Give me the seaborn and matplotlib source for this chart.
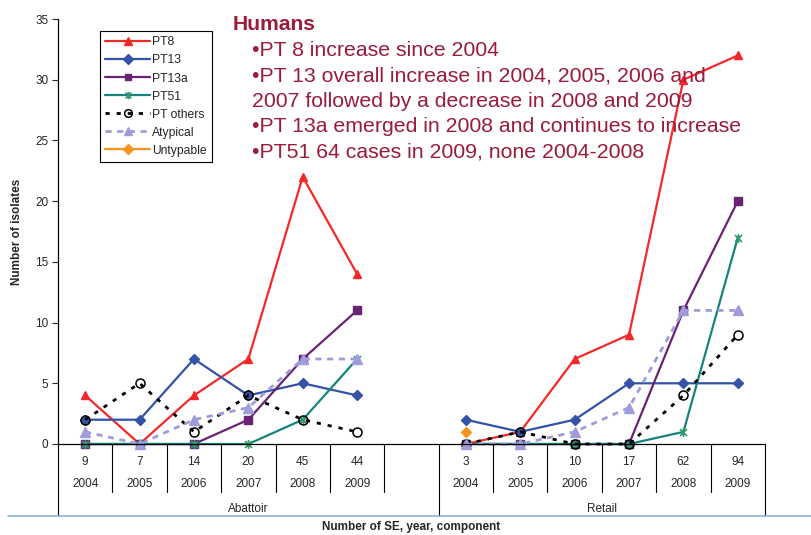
import numpy as np
import pandas as pd
import matplotlib
matplotlib.use("Agg")
import matplotlib.pyplot as plt
import matplotlib.transforms as mtransforms
from matplotlib.path import Path
from matplotlib.lines import Line2D
import seaborn as sns

# ---- data -------------------------------------------------------------
components = ["Abattoir", "Retail"]
years = ["2004", "2005", "2006", "2007", "2008", "2009"]
se_abattoir = [9, 7, 14, 20, 45, 44]
se_retail = [3, 3, 10, 17, 62, 94]

series_names = ["PT8", "PT13", "PT13a", "PT51", "PT others", "Atypical", "Untypable"]

pt8_abattoir = [4, 0, 4, 7, 22, 14]
pt8_retail = [0, 1, 7, 9, 30, 32]
pt13_abattoir = [2, 2, 7, 4, 5, 4]
pt13_retail = [2, 1, 2, 5, 5, 5]
pt13a_abattoir = [0, 0, 0, 2, 7, 11]
pt13a_retail = [0, 0, 0, 0, 11, 20]
pt51_abattoir = [0, 0, 0, 0, 2, 7]
pt51_retail = [0, 0, 0, 0, 1, 17]
others_abattoir = [2, 5, 1, 4, 2, 1]
others_retail = [0, 1, 0, 0, 4, 9]
atypical_abattoir = [1, 0, 2, 3, 7, 7]
atypical_retail = [0, 0, 1, 3, 11, 11]
untypable_abattoir = [np.nan] * 6
untypable_retail = [1, np.nan, np.nan, np.nan, np.nan, np.nan]

humans_title = "Humans"
humans_notes = [
    "\u2022PT 8 increase since 2004",
    "\u2022PT 13 overall increase in 2004, 2005, 2006 and",
    "2007 followed by a decrease in 2008 and 2009",
    "\u2022PT 13a emerged in 2008 and continues to increase",
    "\u2022PT51 64 cases in 2009, none 2004-2008",
]

values = {
    "PT8": (pt8_abattoir, pt8_retail),
    "PT13": (pt13_abattoir, pt13_retail),
    "PT13a": (pt13a_abattoir, pt13a_retail),
    "PT51": (pt51_abattoir, pt51_retail),
    "PT others": (others_abattoir, others_retail),
    "Atypical": (atypical_abattoir, atypical_retail),
    "Untypable": (untypable_abattoir, untypable_retail),
}

# category slots: 6 abattoir years, one empty slot, 6 retail years
slot_offset = {"Abattoir": 0, "Retail": 7}
rows = []
for name in series_names:
    for comp, vals in zip(components, values[name]):
        for i, v in enumerate(vals):
            rows.append({"series": name, "component": comp, "year": years[i],
                         "slot": i + slot_offset[comp], "value": v})
df = pd.DataFrame(rows).dropna(subset=["value"])

# ---- styles -----------------------------------------------------------
star = Path([(-1, -1), (1, 1), (-1, 1), (1, -1), (0, -1.3), (0, 1.3)],
            [Path.MOVETO, Path.LINETO, Path.MOVETO, Path.LINETO, Path.MOVETO, Path.LINETO])

styles = {
    "PT8": dict(color="#F42828", marker="^", ms=6, mfc="#F42828", mec="#F42828", ls="-", lw=1.6),
    "PT13": dict(color="#3452A6", marker="D", ms=5.5, mfc="#3452A6", mec="#3452A6", ls="-", lw=1.6),
    "PT13a": dict(color="#6A2274", marker="s", ms=5.5, mfc="#6A2274", mec="#6A2274", ls="-", lw=1.6),
    "PT51": dict(color="#16847A", marker=star, ms=6.5, mfc="none", mec="#2E9A6E", mew=1.2, ls="-", lw=1.6),
    "PT others": dict(color="black", marker="o", ms=6.5, mfc="none", mec="black", mew=1.1,
                      ls=(0, (1.5, 2.5)), lw=2.0),
    "Atypical": dict(color="#9E9CD9", marker="^", ms=7.5, mfc="#9E9CD9", mec="#9E9CD9",
                     ls=(0, (2.2, 2.0)), lw=2.0),
    "Untypable": dict(color="#F7931E", marker="D", ms=5.5, mfc="#F7931E", mec="#F7931E", ls="-", lw=1.6),
}

sns.set_style("white")
plt.rcParams["font.family"] = ["Liberation Sans", "DejaVu Sans"]

W, H = 811, 535
fig = plt.figure(figsize=(W / 100, H / 100), dpi=100)
ax = fig.add_axes([58 / W, (H - 444) / H, (765 - 58) / W, (444 - 19) / H])

for name in series_names:
    st = styles[name]
    sub = df[df["series"] == name]
    sns.lineplot(data=sub, x="slot", y="value", units="component", estimator=None,
                 color=st["color"], linestyle=st["ls"], linewidth=st["lw"],
                 marker=st["marker"], markersize=st["ms"], markerfacecolor=st["mfc"],
                 markeredgecolor=st["mec"], markeredgewidth=st.get("mew", 1.0),
                 legend=False, ax=ax, clip_on=False)

ax.set_xlim(-0.5, 12.5)
ax.set_ylim(0, 35)
ax.set_yticks(range(0, 36, 5))
ax.tick_params(axis="y", direction="out", length=4, width=0.8, labelsize=8.5, pad=3, left=True)
ax.set_xticks([])
ax.set_xlabel("")
ax.set_ylabel("Number of isolates", fontsize=8.5, fontweight="bold", labelpad=2)
ax.yaxis.set_label_coords(-35 / (765 - 58), 0.5)
for side in ["top", "right"]:
    ax.spines[side].set_visible(False)
for side in ["left", "bottom"]:
    ax.spines[side].set_color("black")
    ax.spines[side].set_linewidth(0.9)

# ---- category table under the axis ------------------------------------
tr = mtransforms.blended_transform_factory(ax.transData, fig.transFigure)
fy = lambda py: (H - py) / H
for k in range(14):
    xb = k - 0.5
    y_end = 516 if k in (0, 7, 13) else 492
    ax.add_line(Line2D([xb, xb], [fy(444), fy(y_end)], transform=tr, color="black",
                       lw=0.8, clip_on=False))

for comp, counts in zip(components, [se_abattoir, se_retail]):
    for i, (n, yr) in enumerate(zip(counts, years)):
        xs = i + slot_offset[comp]
        ax.text(xs, fy(462), str(n), transform=tr, ha="center", va="center", fontsize=8.5)
        ax.text(xs, fy(484), yr, transform=tr, ha="center", va="center", fontsize=8.5)
ax.text(3.0, fy(509), "Abattoir", transform=tr, ha="center", va="center", fontsize=8.5)
ax.text(9.5, fy(509), "Retail", transform=tr, ha="center", va="center", fontsize=8.5)

fig.text(411 / W, fy(527), "Number of SE, year, component", ha="center", va="center",
         fontsize=8.5, fontweight="bold")
fig.add_artist(Line2D([8 / W, 1.0], [fy(516), fy(516)], color="#8DB3E2", lw=1.2))

# ---- legend -----------------------------------------------------------
handles = []
for name in series_names:
    st = styles[name]
    handles.append(Line2D([], [], color=st["color"], ls=st["ls"], lw=st["lw"], marker=st["marker"],
                          ms=st["ms"] * 0.85, mfc=st["mfc"], mec=st["mec"], mew=st.get("mew", 1.0)))
leg = fig.legend(handles, series_names, loc="upper left", bbox_to_anchor=(100 / W, fy(31)),
                 bbox_transform=fig.transFigure, borderaxespad=0, fontsize=8.7, frameon=True,
                 fancybox=False, edgecolor="black", handlelength=3.7, handletextpad=0.15,
                 labelspacing=0.5, borderpad=0.45, framealpha=1)
leg.get_frame().set_linewidth(0.8)

# ---- annotation -------------------------------------------------------
note_color = "#9B1B3B"
fig.text(233 / W, fy(30), humans_title, color=note_color, fontsize=15.2, fontweight="bold",
         ha="left", va="baseline")
baselines = [56, 81, 107, 132, 157]
for line, yb in zip(humans_notes, baselines):
    fig.text(252 / W, fy(yb), line, color=note_color, fontsize=15.3, ha="left", va="baseline")

fig.savefig("out.png", dpi=100, facecolor="white")
